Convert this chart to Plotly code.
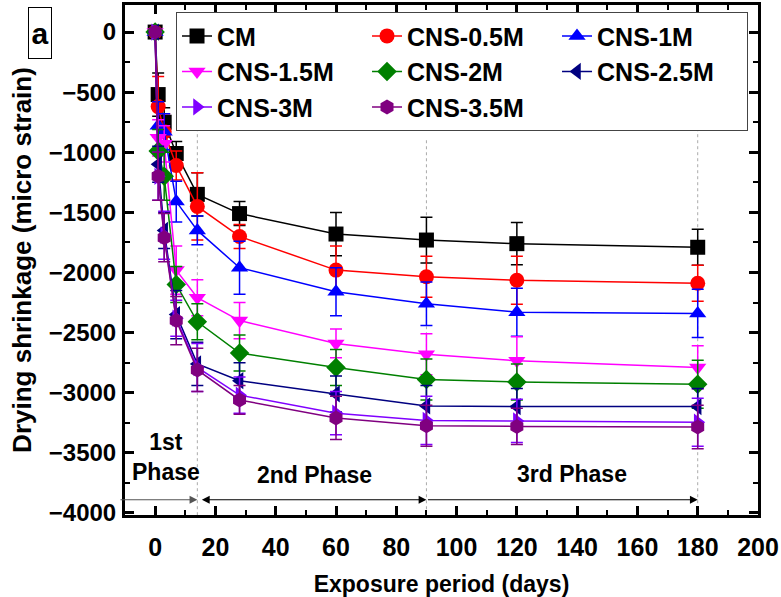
import plotly.graph_objects as go

days = [0, 1, 3, 7, 14, 28, 60, 90, 120, 180]

names = ["CM", "CNS-0.5M", "CNS-1M", "CNS-1.5M", "CNS-2M", "CNS-2.5M", "CNS-3M", "CNS-3.5M"]

cm = [0, -520, -750, -1010, -1350, -1510, -1680, -1730, -1760, -1790]
cns_05 = [0, -620, -830, -1110, -1450, -1700, -1980, -2035, -2065, -2090]
cns_1 = [0, -780, -830, -1410, -1650, -1960, -2160, -2260, -2330, -2340]
cns_15 = [0, -880, -930, -1980, -2210, -2400, -2590, -2680, -2735, -2790]
cns_2 = [0, -990, -1200, -2100, -2410, -2670, -2790, -2890, -2910, -2930]
cns_25 = [0, -1100, -1650, -2350, -2760, -2900, -3010, -3110, -3115, -3115]
cns_3 = [0, -1200, -1690, -2380, -2790, -3020, -3170, -3230, -3235, -3245]
cns_35 = [0, -1200, -1710, -2400, -2810, -3060, -3210, -3275, -3280, -3285]

err_cm = [0, 180, 120, 100, 180, 100, 180, 190, 175, 150]
err_05 = [0, 250, 150, 120, 280, 100, 200, 170, 200, 150]
err_1 = [0, 200, 150, 170, 120, 220, 200, 180, 200, 200]
err_15 = [0, 150, 150, 200, 150, 150, 120, 170, 200, 180]
err_2 = [0, 180, 200, 150, 150, 150, 150, 170, 150, 200]
err_25 = [0, 150, 150, 200, 180, 150, 150, 170, 150, 150]
err_3 = [0, 200, 200, 150, 200, 150, 180, 200, 180, 200]
err_35 = [0, 200, 200, 200, 180, 120, 180, 170, 150, 180]

values = [cm, cns_05, cns_1, cns_15, cns_2, cns_25, cns_3, cns_35]
errors = [err_cm, err_05, err_1, err_15, err_2, err_25, err_3, err_35]
colors = ["#000000", "#FF0000", "#0000FF", "#FF00FF", "#008000", "#000080", "#8000FF", "#800080"]
symbols = ["square", "circle", "triangle-up", "triangle-down", "diamond",
           "triangle-left", "triangle-right", "hexagon"]

x_ticks = list(range(0, 201, 20))
y_ticks = list(range(-4000, 1, 500))

phase_bounds = [14, 90, 180]
phase_labels = ["1st<br>Phase", "2nd Phase", "3rd Phase"]
phase_label_x = [3.6, 52.8, 138.4]
phase_label_y = [-3534, -3684, -3676]
arrow_y = -3890

FONT = "Liberation Sans, Arial, sans-serif"

fig = go.Figure()
for name, vals, err, col, sym in zip(names, values, errors, colors, symbols):
    fig.add_trace(go.Scatter(
        x=days, y=vals, name=name, mode="lines+markers",
        line=dict(color=col, width=1.5),
        marker=dict(symbol=sym, size=15, color=col),
        error_y=dict(type="data", array=err, color=col, thickness=1.5, width=6),
    ))

axis_common = dict(
    showline=True, linewidth=3, linecolor="black", mirror="ticks",
    ticks="inside", ticklen=9, tickwidth=3, tickcolor="black",
    showgrid=False, zeroline=False, automargin=False,
)

fig.update_xaxes(
    range=[-10, 200], tickvals=x_ticks,
    minor=dict(dtick=10, tick0=0, ticks="inside", ticklen=5, tickwidth=2, tickcolor="black"),
    title=dict(text="Exposure period (days)", font=dict(family=FONT, size=23, color="black", weight="bold"),
               standoff=20),
    ticklabelstandoff=8,
    tickfont=dict(family=FONT, size=25, color="black", weight="bold"),
    **axis_common,
)
fig.update_yaxes(
    range=[-4017, 225], tickvals=y_ticks,
    minor=dict(dtick=250, tick0=0, ticks="inside", ticklen=5, tickwidth=2, tickcolor="black"),
    title=dict(text="Drying shrinkage (micro strain)", font=dict(family=FONT, size=26, color="black", weight="bold"),
               standoff=10),
    ticklabelstandoff=1,
    tickfont=dict(family=FONT, size=24, color="black", weight="bold"),
    **axis_common,
)

# phase boundaries
for b in phase_bounds:
    fig.add_shape(type="line", x0=b, x1=b, y0=-700 if b != 90 else -900, y1=-4017,
                  xref="x", yref="y", line=dict(color="#aaaaaa", width=1, dash="dot"), layer="below")

# phase labels
for txt, lx, ly in zip(phase_labels, phase_label_x, phase_label_y):
    fig.add_annotation(x=lx, y=ly, xref="x", yref="y", text=txt, showarrow=False,
                       font=dict(family=FONT, size=23, color="black", weight="bold"))

# phase arrows
fig.add_annotation(x=phase_bounds[0], y=arrow_y, ax=-12, ay=arrow_y, xref="x", yref="y",
                   axref="x", ayref="y", text="", showarrow=True, arrowhead=2, arrowsize=1.3,
                   arrowwidth=1.2, arrowcolor="#555555")
fig.add_annotation(x=phase_bounds[1], y=arrow_y, ax=phase_bounds[0] + 1, ay=arrow_y, xref="x", yref="y",
                   axref="x", ayref="y", text="", showarrow=True, arrowhead=2, startarrowhead=2,
                   arrowside="end+start", arrowsize=1.3, arrowwidth=1.2, arrowcolor="black")
fig.add_annotation(x=phase_bounds[2], y=arrow_y, ax=phase_bounds[1], ay=arrow_y, xref="x", yref="y",
                   axref="x", ayref="y", text="", showarrow=True, arrowhead=2, arrowsize=1.3,
                   arrowwidth=1.2, arrowcolor="black")

# panel label
fig.add_annotation(x=-0.134, y=0.945, xref="paper", yref="paper", xanchor="center", yanchor="middle",
                   text="a", showarrow=False, width=20, height=48,
                   font=dict(family=FONT, size=30, color="black", weight="bold"),
                   bordercolor="black", borderwidth=1, borderpad=1, bgcolor="white")

fig.update_layout(
    width=781, height=597,
    margin=dict(l=125, r=23, t=5, b=82),
    plot_bgcolor="white", paper_bgcolor="white",
    font=dict(family=FONT, color="black"),
    legend=dict(
        orientation="h", x=0.0806, y=0.986, xanchor="left", yanchor="top",
        bordercolor="#444444", borderwidth=1, bgcolor="white",
        font=dict(family=FONT, size=25, color="black", weight="bold"),
        entrywidth=145, entrywidthmode="pixels", tracegroupgap=0, itemsizing="trace",
    ),
)

fig.write_html("out.html")
